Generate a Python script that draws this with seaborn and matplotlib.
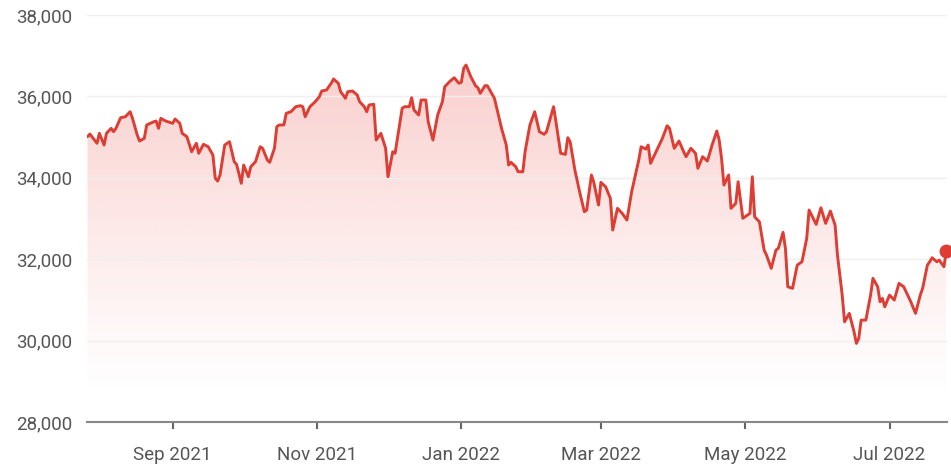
import numpy as np
import pandas as pd
import matplotlib
matplotlib.use("Agg")
import matplotlib.pyplot as plt
import seaborn as sns

# Dow Jones Industrial Average, daily closes (sampled), one year
start_date = "2021-07-27"
day_offsets = [
    0, 1, 4, 5, 7, 8, 10, 11, 12, 14, 16, 18, 19, 21, 22, 24, 25, 28, 29, 30,
    31, 33, 36, 37, 39, 40, 42, 44, 46, 47, 49, 51, 53, 54, 55, 56, 58, 60, 62, 63,
    65, 66, 68, 69, 71, 73, 74, 76, 77, 79, 80, 81, 83, 84, 86, 88, 90, 91, 92, 94,
    96, 98, 99, 101, 103, 104, 106, 107, 109, 110, 112, 114, 115, 117, 118, 119, 121, 122, 124, 126,
    127, 129, 130, 133, 134, 136, 137, 138, 140, 141, 143, 144, 146, 148, 150, 151, 153, 155, 157, 158,
    159, 160, 162, 164, 165, 166, 168, 169, 172, 175, 177, 178, 179, 181, 182, 184, 185, 187, 189, 191,
    193, 194, 197, 198, 200, 202, 203, 204, 206, 208, 210, 211, 213, 214, 216, 217, 219, 221, 222, 224,
    226, 228, 230, 233, 234, 236, 237, 238, 241, 243, 245, 246, 248, 250, 252, 253, 255, 257, 258, 260,
    262, 264, 266, 267, 268, 269, 271, 272, 274, 275, 277, 279, 280, 281, 282, 284, 286, 287, 289, 291,
    292, 294, 295, 296, 298, 300, 302, 304, 305, 308, 310, 312, 314, 316, 317, 319, 320, 322, 324, 325,
    326, 327, 329, 331, 332, 334, 335, 336, 337, 339, 341, 343, 345, 348, 350, 352, 353, 355, 356, 357,
    359, 360, 362, 363,
]
closes = [
    35010, 35076, 34848, 35093, 34806, 35093, 35216, 35133, 35216, 35477,
    35501, 35624, 35462, 35052, 34904, 34971, 35297, 35378, 35396, 35216,
    35462, 35396, 35339, 35445, 35339, 35093, 35010, 34641, 34848, 34602,
    34823, 34764, 34560, 33988, 33921, 34069, 34806, 34887, 34396, 34332,
    33865, 34314, 34027, 34273, 34396, 34764, 34725, 34437, 34381, 34725,
    35256, 35297, 35300, 35585, 35624, 35747, 35772, 35747, 35501, 35747,
    35855, 35993, 36133, 36157, 36322, 36428, 36322, 36116, 35953, 36116,
    36133, 36034, 35870, 35747, 35624, 35789, 35806, 34929, 35093, 34725,
    34027, 34641, 34602, 35708, 35747, 35747, 35968, 35666, 35543, 35912,
    35912, 35378, 34929, 35543, 35870, 36238, 36361, 36459, 36322, 36346,
    36690, 36771, 36484, 36263, 36214, 36076, 36263, 36263, 35953, 35216,
    34806, 34314, 34381, 34273, 34150, 34150, 34660, 35297, 35624, 35133,
    35069, 35133, 35747, 35378, 34602, 34577, 34985, 34887, 34192, 33658,
    33167, 33209, 34069, 33889, 33332, 33889, 33781, 33496, 32717, 33251,
    33128, 32963, 33658, 34437, 34764, 34708, 34806, 34356, 34725, 34971,
    35280, 35216, 34725, 34904, 34641, 34519, 34725, 34602, 34234, 34519,
    34413, 34806, 35150, 34929, 34479, 33823, 34069, 33251, 33374, 33904,
    33005, 33086, 33128, 34027, 33044, 32921, 32226, 32103, 31776, 32226,
    32268, 32661, 32268, 31324, 31285, 31857, 31939, 32513, 33209, 32857,
    33265, 32882, 33184, 32840, 32103, 31120, 30464, 30671, 30219, 29934,
    30057, 30506, 30506, 31120, 31531, 31324, 30956, 31039, 30833, 31120,
    30998, 31408, 31324, 30956, 30671, 31120, 31285, 31857, 31939, 32037,
    31939, 31980, 31816, 32200,
]

y_ticks = [28000, 30000, 32000, 34000, 36000, 38000]
x_tick_dates = ["2021-09-01", "2021-11-01", "2022-01-01", "2022-03-01", "2022-05-01", "2022-07-01"]
x_tick_labels = ["Sep 2021", "Nov 2021", "Jan 2022", "Mar 2022", "May 2022", "Jul 2022"]

df = pd.DataFrame({
    "date": pd.Timestamp(start_date) + pd.to_timedelta(day_offsets, unit="D"),
    "close": closes,
})

line_color = "#dd3d33"
text_color = "#555555"

sns.set_theme(style="white")
plt.rcParams["font.family"] = ["Roboto", "DejaVu Sans"]

fig = plt.figure(figsize=(9.51, 4.68), dpi=100)
ax = fig.add_axes([0.0918, 0.098, 0.904, 0.870])

x_num = matplotlib.dates.date2num(df["date"])
x0, x1 = x_num[0] - 0.1, x_num[-1] + 0.3
ymin, ymax = 28000, 38000

# gradient fill under the curve, fading out towards the bottom
poly = ax.fill_between(df["date"], df["close"], ymin, facecolor="none", edgecolor="none")
grad_top, grad_bot = 36900, 28600
n = 256
alpha = np.linspace(0.32, 0.0, n) ** 1.15
rgba = np.zeros((n, 1, 4))
rgba[..., :3] = matplotlib.colors.to_rgb("#ea4a42")
rgba[:, 0, 3] = alpha
img = ax.imshow(rgba, aspect="auto", extent=[x0, x1, grad_bot, grad_top],
                origin="upper", zorder=1, interpolation="bilinear")
img.set_clip_path(poly.get_paths()[0], transform=ax.transData)

# horizontal grid lines
for yv in y_ticks[1:]:
    ax.axhline(yv, color="#efefef", lw=1.0, zorder=2)

sns.lineplot(data=df, x="date", y="close", ax=ax, color=line_color,
             linewidth=2.1, zorder=3)
ax.plot(df["date"].iloc[-1], df["close"].iloc[-1], "o", color=line_color,
        markersize=9, zorder=4, clip_on=False)

ax.set_xlim(x0, x1)
ax.set_ylim(ymin, ymax)
ax.set_xlabel("")
ax.set_ylabel("")

ax.set_yticks(y_ticks)
ax.set_yticklabels([f"{v:,}" for v in y_ticks])
ax.set_xticks(matplotlib.dates.date2num(pd.to_datetime(x_tick_dates)))
ax.set_xticklabels(x_tick_labels)

ax.tick_params(axis="y", length=0, pad=11, labelsize=13.5, labelcolor=text_color)
ax.tick_params(axis="x", length=5, width=1.5, color="#666666", pad=12,
               labelsize=13.5, labelcolor=text_color, direction="out", bottom=True)

for side in ["top", "right", "left"]:
    ax.spines[side].set_visible(False)
ax.spines["bottom"].set_color("#888888")
ax.spines["bottom"].set_linewidth(1.5)
ax.spines["bottom"].set_zorder(5)

fig.savefig("out.png", dpi=100)
